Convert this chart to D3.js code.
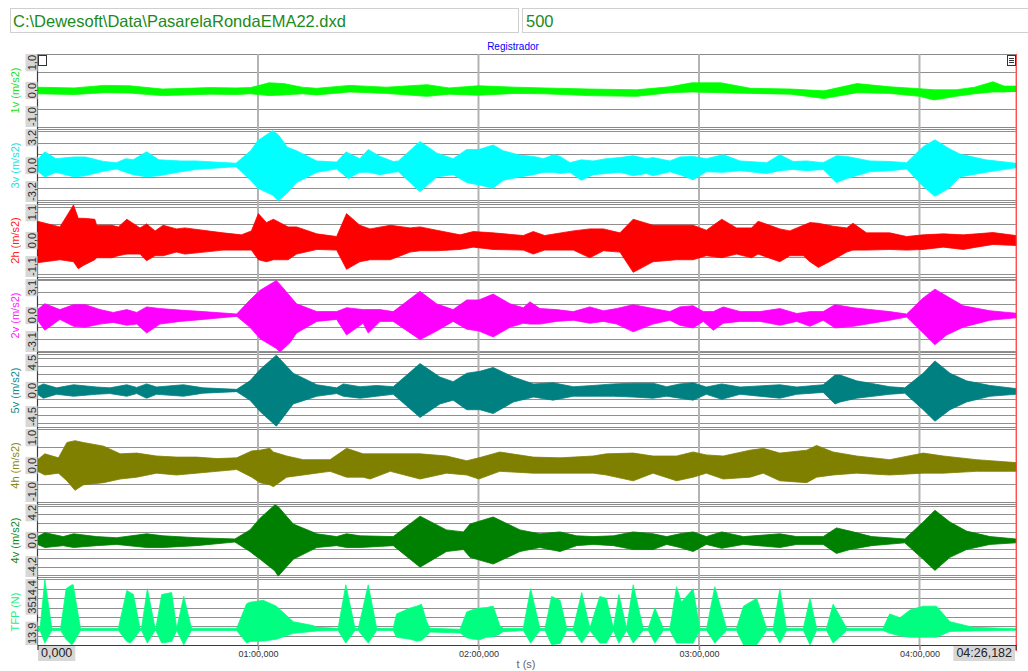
<!DOCTYPE html>
<html>
<head>
<meta charset="utf-8">
<script src="https://cdn.jsdelivr.net/npm/d3@7"></script>
<style>
  html, body { margin: 0; padding: 0; background: #ffffff; }
  svg { display: block; }
  text { font-family: "Liberation Sans", Arial, sans-serif; }
</style>
</head>
<body>
<svg id="chart" width="1028" height="671"></svg>
<script>
// ---- recorder data --------------------------------------------------------
const fileName = "C:\\Dewesoft\\Data\\PasarelaRondaEMA22.dxd";
const sampleRate = "500";
const title = "Registrador";
const tEnd = 266.182;

const channelNames = ["1v (m/s2)", "3v (m/s2)", "2h (m/s2)", "2v (m/s2)", "5v (m/s2)", "4h (m/s2)", "4v (m/s2)", "TFP (N)"];
const channelColors = ["#00ff00", "#00ffff", "#ff0000", "#ff00ff", "#008080", "#808000", "#008000", "#00ff80"];
const nameColors = ["#22dd22", "#22e0e0", "#ff2020", "#ff20ff", "#108888", "#888810", "#108810", "#22ee88"];
const rangeLow = [-1.0, -3.2, -1.1, -3.1, -4.5, -1.0, -4.2, 13.9];
const rangeHigh = [1.0, 3.2, 1.1, 3.1, 4.5, 1.0, 4.2, 3514.4];
const gridStep = [0.5, 1, 0.5, 1, 1, 0.5, 1, 500];
const topLabels = ["1,0", "3,2", "1,1", "3,1", "4,5", "1,0", "4,2", "3514,4"];
const midLabels = ["0,0", "0,0", "0,0", "0,0", "0,0", "0,0", "0,0", ""];
const bottomLabels = ["-1,0", "-3,2", "-1,1", "-3,1", "-4,5", "-1,0", "-4,2", "13,9"];

const timeTicks = [60, 120, 180, 240];
const timeTickLabels = ["01:00,000", "02:00,000", "03:00,000", "04:00,000"];
const startLabel = "0,000";
const endLabel = "04:26,182";
const axisTitle = "t (s)";

// envelope of each channel: [time s, max, min]
const env1v = [
  [0, 0.09, -0.09], [10, 0.07, -0.11], [18, 0.14, -0.06], [25, 0.13, -0.07], [34, 0.04, -0.14],
  [47, 0.08, -0.1], [54, 0.07, -0.11], [58, 0.08, -0.09], [63, 0.21, -0.14], [67, 0.19, -0.12],
  [72, 0.09, -0.09], [76, 0.06, -0.12], [85, 0.14, -0.04], [95, 0.09, -0.08], [106, 0.16, -0.16],
  [112, 0.07, -0.1], [120, 0.13, -0.13], [130, 0.09, -0.08], [138, 0.07, -0.09], [150, 0.04, -0.14],
  [163, 0.02, -0.16], [172, 0.1, -0.06], [178, 0.21, -0.04], [186, 0.21, -0.06], [194, 0.06, -0.08],
  [205, 0.04, -0.1], [214, -0.01, -0.22], [223, 0.19, -0.06], [232, 0.1, -0.08], [240, 0.05, -0.16],
  [244, 0.02, -0.26], [250, 0.02, -0.16], [255, 0.09, -0.09], [260, 0.24, -0.04], [263, 0.12, -0.04],
  [266.182, 0.12, -0.02]
];
const env3v = [
  [0, 0.5, -0.5], [2, 1.2, -1.0], [5, 0.6, -0.6], [10, 0.75, -1.0], [13, 0.75, -0.9],
  [18, 0.35, -0.5], [21.5, 0.25, -0.3], [24, 0.6, -0.6], [26, 0.5, -0.8], [29.7, 1.2, -1.0],
  [33, 0.5, -0.9], [39, 0.4, -0.55], [43, 0.4, -0.35], [54, 0.2, -0.1], [58, 1.3, -1.3],
  [60, 2.2, -2.0], [64, 3.05, -2.6], [65.5, 2.7, -3.1], [68, 1.6, -2.4], [70.5, 1.3, -1.5],
  [76, 0.4, -0.6], [81.4, 0.3, -0.3], [84, 1.2, -1.0], [84.5, 1.1, -1.15], [87.7, 0.6, -0.6],
  [90, 1.4, -0.6], [93.2, 0.8, -0.8], [96.8, 0.35, -0.6], [98.2, 0.4, -0.55], [104.1, 2.1, -2.3],
  [108.6, 1.1, -1.0], [113.1, 0.6, -0.8], [116.8, 1.4, -1.5], [120.1, 1.4, -1.7], [124, 1.8, -2.0],
  [126.7, 1.3, -1.3], [131.3, 0.9, -1.0], [135, 0.8, -0.8], [137.6, 0.6, -0.6], [140.5, 0.95, -0.6],
  [142.2, 0.8, -0.7], [144.9, 0.25, -0.6], [148, 0.5, -1.3], [151.2, 0.4, -0.8], [154.8, 0.6, -0.7],
  [158.5, 0.7, -0.6], [162.1, 0.85, -0.9], [165.7, 0.6, -0.7], [167.5, 0.7, -0.9], [172.1, 0.4, -0.55],
  [174.8, 0.75, -0.8], [178.4, 0.8, -1.25], [182, 0.6, -0.55], [186.6, 0.95, -0.6], [191.2, 0.4, -0.45],
  [198.4, 0.25, -0.7], [202, 0.95, -0.45], [205.6, 0.35, -0.35], [209.3, 0.4, -0.45], [213.8, 0.25, -0.35],
  [217.4, 0.85, -1.5], [220.2, 0.8, -1.15], [226.5, 0.4, -0.55], [232, 0.35, -0.45], [236.5, 0.25, -0.3],
  [241, 1.65, -1.85], [244.2, 2.25, -2.7], [248, 1.5, -2.0], [251, 1.0, -1.0], [258, 0.5, -0.6],
  [266.182, 0.2, -0.2]
];
const env2h = [
  [0, 0.58, -0.67], [6.1, 0.41, -0.58], [9.8, 1.07, -0.64], [11.1, 0.67, -0.85], [12.5, 0.67, -0.75],
  [15.6, 0.64, -0.58], [16.1, 0.46, -0.52], [20.2, 0.46, -0.52], [22, 0.41, -0.46], [24.3, 0.64, -0.41],
  [27.9, 0.38, -0.41], [29.7, 0.5, -0.61], [32, 0.29, -0.46], [34.2, 0.46, -0.46], [37.8, 0.35, -0.35],
  [40.1, 0.38, -0.41], [50.5, 0.23, -0.29], [55.5, 0.17, -0.29], [58.2, 0.29, -0.29], [60.1, 0.81, -0.58],
  [62.3, 0.54, -0.64], [64.2, 0.64, -0.58], [68.2, 0.41, -0.58], [70.5, 0.41, -0.41], [76, 0.2, -0.27],
  [81.4, 0.12, -0.29], [84.1, 0.81, -0.87], [87.7, 0.46, -0.64], [90.5, 0.35, -0.58], [96, 0.46, -0.58],
  [101.4, 0.38, -0.35], [104.1, 0.41, -0.31], [108.6, 0.31, -0.31], [115, 0.17, -0.27], [118.6, 0.27, -0.2],
  [124, 0.23, -0.27], [132.2, 0.15, -0.29], [134.9, 0.27, -0.41], [138, 0.15, -0.29], [145.8, 0.29, -0.29],
  [150.3, 0.35, -0.52], [154, 0.35, -0.31], [158.5, 0.23, -0.35], [162.1, 0.64, -0.96], [167.5, 0.46, -0.64],
  [173.9, 0.46, -0.58], [178.4, 0.46, -0.58], [182, 0.31, -0.46], [186.2, 0.64, -0.52], [190.2, 0.38, -0.41],
  [194.3, 0.38, -0.52], [196.1, 0.58, -0.41], [202, 0.35, -0.64], [204.7, 0.29, -0.46], [208.4, 0.46, -0.46],
  [210.2, 0.54, -0.64], [212.5, 0.52, -0.81], [216.5, 0.43, -0.58], [220.2, 0.38, -0.35], [221.9, 0.52, -0.29],
  [225.6, 0.23, -0.29], [231.9, 0.23, -0.27], [236.5, 0.12, -0.29], [241, 0.17, -0.27], [246.5, 0.2, -0.2],
  [251.9, 0.17, -0.27], [255.5, 0.2, -0.2], [260, 0.24, -0.12], [266.182, 0.15, -0.15]
];
const env2v = [
  [0, 0.5, -0.4], [2, 1.0, -1.25], [6.1, 0.5, -0.33], [9.8, 0.92, -0.92], [13, 0.92, -0.99],
  [17, 0.5, -0.73], [20.6, 0.26, -0.59], [24.3, 0.5, -0.83], [27, 0.26, -0.73], [29.7, 0.73, -1.49],
  [33.3, 0.59, -0.73], [38.8, 0.46, -0.5], [45.1, 0.33, -0.33], [54.2, 0.13, -0.07], [57.8, 1.32, -0.99],
  [60.6, 2.15, -1.98], [65, 2.97, -2.8], [66, 2.64, -3.1], [68.7, 1.65, -2.31], [70.5, 0.99, -1.49],
  [76, 0.33, -0.5], [81.4, 0.33, -0.33], [84.1, 0.66, -1.65], [88.6, 0.5, -0.66], [90, 0.5, -1.49],
  [93.2, 0.5, -0.5], [96.8, 0.33, -0.5], [104.1, 2.05, -2.05], [108.6, 0.99, -1.32], [113.1, 0.5, -0.5],
  [116.8, 1.32, -1.16], [120.1, 1.32, -1.32], [124, 1.82, -1.82], [128.6, 0.99, -0.99], [132.2, 0.66, -0.66],
  [134, 1.16, -0.73], [136.7, 0.59, -0.73], [141.2, 0.5, -0.5], [145.8, 0.33, -0.4], [150.3, 0.73, -0.66],
  [154, 0.4, -0.5], [157.6, 0.59, -0.73], [162.1, 0.92, -1.39], [167.5, 0.59, -0.73], [172.1, 0.33, -0.4],
  [174.8, 0.73, -0.83], [178.4, 0.83, -1.06], [181.2, 0.33, -0.5], [183.9, 0.33, -1.25], [186.6, 0.73, -0.66],
  [191.2, 0.33, -0.5], [196.6, 0.33, -0.5], [202, 0.59, -0.83], [206.6, 0.17, -0.5], [210.2, 0.33, -0.92],
  [213.8, 0.33, -0.4], [217, 0.92, -1.06], [222, 0.66, -0.92], [231.9, 0.33, -0.4], [236.5, 0.13, -0.13],
  [241, 1.49, -1.49], [244.2, 2.24, -2.48], [247.4, 1.65, -1.65], [251.9, 0.83, -0.99], [259.2, 0.4, -0.4],
  [266.182, 0.2, -0.2]
];
const env5v = [
  [0, 0.47, -0.47], [1.6, 0.81, -0.95], [5.2, 0.33, -0.47], [9.8, 0.71, -0.71], [16.1, 0.43, -0.47],
  [19.7, 0.33, -0.38], [24.3, 0.71, -0.71], [27, 0.38, -0.38], [29.7, 0.81, -0.95], [32.4, 0.43, -0.47],
  [39.7, 0.71, -0.71], [45.1, 0.33, -0.33], [54.2, 0.14, -0.14], [57.8, 1.19, -1.19], [60.6, 2.61, -2.61],
  [65, 4.35, -4.4], [69.6, 2.13, -1.66], [76, 0.71, -0.71], [81.4, 0.33, -0.38], [83.2, 0.81, -0.71],
  [87.8, 0.47, -0.95], [92.3, 0.62, -0.71], [96.8, 0.47, -0.47], [104.1, 3.32, -3.32], [109.5, 1.66, -1.66],
  [113.1, 1.09, -1.19], [116.8, 2.13, -2.37], [120.4, 2.37, -2.37], [124, 2.84, -2.84], [129.5, 1.66, -1.42],
  [135, 0.81, -0.81], [140.3, 0.95, -1.19], [145.8, 0.47, -0.71], [151.2, 0.62, -0.71], [156.7, 0.81, -0.71],
  [162.1, 0.9, -0.81], [167.5, 0.9, -0.95], [171.2, 0.47, -0.71], [174.8, 0.81, -0.95], [178.4, 0.95, -1.19],
  [182, 0.43, -0.47], [186.2, 0.81, -1.09], [191.2, 0.43, -0.47], [202, 0.71, -0.95], [206.6, 0.43, -0.47],
  [213.8, 0.71, -0.24], [217, 1.9, -1.66], [218.4, 1.9, -1.42], [222.9, 1.19, -0.95], [231.9, 0.47, -0.47],
  [236, 0.33, -0.33], [241, 2.13, -2.37], [244.2, 3.65, -3.79], [248.3, 2.13, -2.37], [252.8, 1.19, -1.42],
  [259.2, 0.62, -0.71], [266.182, 0.24, -0.47]
];
const env4h = [
  [0, 0.16, -0.16], [2, 0.32, -0.26], [5.7, 0.21, -0.21], [8, 0.63, -0.42], [10.2, 0.68, -0.68],
  [12.5, 0.63, -0.53], [18, 0.53, -0.47], [22.5, 0.32, -0.37], [27, 0.34, -0.32], [32.4, 0.26, -0.21],
  [37.8, 0.23, -0.26], [43.3, 0.23, -0.21], [48.8, 0.19, -0.16], [54.2, 0.21, -0.11], [58.3, 0.4, -0.32],
  [60.5, 0.42, -0.47], [63.2, 0.47, -0.53], [64.2, 0.37, -0.58], [67.8, 0.26, -0.32], [72.3, 0.16, -0.26],
  [79.6, 0.16, -0.16], [84.1, 0.47, -0.32], [88.6, 0.32, -0.32], [90.5, 0.32, -0.37], [96, 0.32, -0.16],
  [104.1, 0.32, -0.37], [111.3, 0.26, -0.21], [116.8, 0.13, -0.26], [120.1, 0.21, -0.37], [125.8, 0.37, -0.16],
  [134.9, 0.23, -0.21], [142.2, 0.21, -0.21], [151.2, 0.26, -0.21], [154.8, 0.32, -0.26], [162.1, 0.34, -0.42],
  [167.5, 0.26, -0.21], [173.9, 0.26, -0.42], [178.4, 0.37, -0.32], [182, 0.29, -0.21], [186.6, 0.26, -0.37],
  [193.9, 0.42, -0.32], [197.5, 0.47, -0.21], [202, 0.34, -0.42], [209.3, 0.42, -0.47], [212, 0.55, -0.32],
  [216.5, 0.37, -0.26], [222.9, 0.26, -0.21], [231.9, 0.16, -0.26], [241, 0.34, -0.21], [246.5, 0.26, -0.21],
  [255.5, 0.16, -0.16], [266.182, 0.08, -0.16]
];
const env4v = [
  [0, 0.45, -0.45], [2, 0.9, -0.81], [7, 0.45, -0.59], [9.8, 0.77, -0.81], [16.1, 0.45, -0.59],
  [21.5, 0.32, -0.45], [29.7, 0.77, -0.81], [34.2, 0.54, -0.81], [43.3, 0.32, -0.59], [53.7, 0.18, -0.18],
  [57.8, 1.22, -1.27], [60.6, 2.58, -2.17], [64.6, 4.1, -3.5], [65.5, 3.9, -4.1], [69.6, 1.9, -2.17],
  [76, 0.77, -0.81], [81.4, 0.45, -0.59], [84.1, 0.77, -0.81], [87.8, 0.54, -0.81], [96.8, 0.45, -0.59],
  [104.1, 2.8, -3.07], [111.3, 1.22, -1.27], [115.9, 0.99, -1.04], [117.7, 1.9, -1.94], [124, 2.71, -2.71],
  [131.3, 1.22, -1.27], [136.7, 0.77, -0.81], [142.2, 0.99, -1.27], [146.7, 0.54, -0.59], [151.2, 0.45, -0.45],
  [156.7, 0.54, -0.59], [162.1, 0.99, -1.04], [167.5, 0.77, -1.04], [171.2, 0.45, -0.45], [174.8, 0.77, -0.81],
  [178.4, 0.99, -1.27], [182, 0.45, -0.45], [186.2, 0.99, -0.9], [192.1, 0.45, -0.45], [202, 0.77, -0.81],
  [206.6, 0.45, -0.45], [213.8, 0.45, -0.45], [217.4, 1.45, -1.49], [221.1, 1.08, -1.04], [227, 0.45, -0.59],
  [236, 0.18, -0.27], [241, 2.12, -2.17], [244.2, 3.48, -3.44], [248.3, 2.12, -1.94], [252.8, 1.08, -1.04],
  [259.2, 0.45, -0.45], [266.182, 0.18, -0.27]
];
const envTFP = [
  [0, 1000, 700], [0.7, 900, 780], [2.0, 3480, 117], [3.9, 900, 780], [6.3, 900, 780],
  [7.8, 3001, 300], [9.3, 3200, 30], [9.7, 3207, 100], [11.7, 900, 780], [22, 900, 780],
  [24.3, 2898, 200], [25.2, 2800, 117], [26.1, 2692, 300], [27.9, 900, 780], [28.3, 900, 780],
  [29.9, 3001, 117], [32, 900, 780], [32.2, 900, 780], [33.8, 2692, 117], [36.5, 2795, 200],
  [37.9, 900, 780], [39.8, 2589, 30], [41.9, 900, 780], [54.2, 900, 780], [56.9, 2200, 117],
  [57.8, 2280, 200], [61.4, 2383, 220], [65, 2074, 323], [69.6, 1250, 632], [75, 1044, 735],
  [76, 950, 760], [81.8, 900, 780], [83.9, 3207, 117], [86.4, 900, 780], [87.3, 900, 780],
  [90, 3207, 117], [92.3, 900, 780], [96.8, 900, 780], [97.7, 1662, 426], [101.4, 1971, 323],
  [103.2, 2074, 220], [104.5, 2177, 250], [105.9, 1250, 500], [106.8, 900, 700], [115, 850, 650],
  [116.8, 1765, 400], [118.6, 1900, 323], [120.4, 1971, 300], [122.2, 2000, 426], [124, 2074, 450],
  [125.8, 1044, 600], [126.7, 900, 720], [132.2, 900, 780], [134.2, 3001, 117], [136.7, 900, 780],
  [138.1, 900, 780], [139.9, 2589, 30], [142.2, 2383, 100], [144, 900, 780], [145.8, 900, 780],
  [148.1, 2795, 117], [150.3, 900, 780], [153, 2589, 117], [154.8, 2486, 117], [156.7, 900, 780],
  [158.2, 2692, 117], [160.3, 900, 780], [162.1, 3207, 117], [164.8, 900, 780], [166.2, 900, 780],
  [168, 1971, 117], [170.3, 900, 780], [172.1, 900, 780], [173.9, 3104, 117], [175.2, 2280, 117],
  [178.4, 2998, 117], [180.2, 900, 780], [182.1, 900, 780], [184.3, 3104, 117], [187.5, 900, 780],
  [190.2, 900, 780], [192.1, 2074, 30], [195.7, 2486, 30], [198.4, 900, 780], [200.2, 900, 780],
  [202, 3001, 117], [203.8, 900, 780], [208.4, 900, 780], [210.2, 2486, 30], [212, 900, 780],
  [214.7, 900, 780], [216.5, 2177, 117], [220.2, 900, 780], [230.1, 900, 780], [231.9, 1662, 632],
  [234.7, 1456, 500], [237.4, 1868, 426], [241, 2074, 426], [244.6, 2074, 426], [248.3, 1250, 735],
  [254.6, 950, 760], [266.182, 880, 790]
];
const envelopes = [env1v, env3v, env2h, env2v, env5v, env4h, env4v, envTFP];

// ---- layout ---------------------------------------------------------------
const svg = d3.select("#chart");
const plotL = 37.5, plotR = 1015.7, plotT = 54, axisY = 645;
const panelStep = 75, panelH = 73;

const x = d3.scaleLinear().domain([0, tEnd]).range([plotL, plotR]);

const panels = channelNames.map((name, i) => {
  const top = plotT + i * panelStep;
  const bottom = i === channelNames.length - 1 ? axisY : top + panelH;
  const y = d3.scaleLinear().domain([rangeLow[i], rangeHigh[i]]).range([bottom, top]);
  return { i, name, top, bottom, y };
});

// header boxes
svg.append("rect").attr("x", 10.5).attr("y", 8.5).attr("width", 508).attr("height", 24)
  .attr("fill", "#fff").attr("stroke", "#cfcfcf");
svg.append("rect").attr("x", 522.5).attr("y", 8.5).attr("width", 520).attr("height", 24)
  .attr("fill", "#fff").attr("stroke", "#cfcfcf");
svg.append("text").attr("x", 13).attr("y", 27).attr("font-size", 16.5).attr("fill", "#1b8a1b")
  .text(fileName);
svg.append("text").attr("x", 526).attr("y", 27).attr("font-size", 16.5).attr("fill", "#1b8a1b")
  .text(sampleRate);
svg.append("text").attr("x", 513).attr("y", 50).attr("font-size", 10).attr("fill", "#0000ff")
  .attr("text-anchor", "middle").text(title);

// plot frame
svg.append("line").attr("x1", plotL).attr("x2", plotR).attr("y1", plotT + 0.5).attr("y2", plotT + 0.5)
  .attr("stroke", "#8c8c8c");

const gridG = svg.append("g");
panels.forEach(p => {
  // panel borders
  [p.top, p.bottom].forEach(yy => {
    gridG.append("line").attr("x1", plotL).attr("x2", plotR)
      .attr("y1", Math.round(yy) + 0.5).attr("y2", Math.round(yy) + 0.5)
      .attr("stroke", "#8a8a8a").attr("stroke-width", 1);
  });
  // value grid
  const step = gridStep[p.i];
  const first = Math.ceil(rangeLow[p.i] / step) * step;
  for (let v = first; v < rangeHigh[p.i] - 1e-9; v += step) {
    if (v <= rangeLow[p.i] + 1e-9) continue;
    const yy = Math.round(p.y(v)) + 0.5;
    gridG.append("line").attr("x1", plotL).attr("x2", plotR).attr("y1", yy).attr("y2", yy)
      .attr("stroke", "#8f8f8f").attr("stroke-width", 1);
  }
});

// minute grid lines
timeTicks.forEach(t => {
  gridG.append("line").attr("x1", x(t)).attr("x2", x(t)).attr("y1", plotT).attr("y2", axisY)
    .attr("stroke", "#b3b3b3").attr("stroke-width", 2);
});

// envelopes
const traceG = svg.append("g");
panels.forEach(p => {
  const area = d3.area()
    .x(d => x(d[0]))
    .y0(d => p.y(d[2]))
    .y1(d => p.y(d[1]))
    .curve(d3.curveLinear);
  traceG.append("path").datum(envelopes[p.i])
    .attr("d", area)
    .attr("fill", channelColors[p.i])
    .attr("stroke", channelColors[p.i]).attr("stroke-width", 0.8);
});

// left axis line and right cursor
svg.append("line").attr("x1", plotL).attr("x2", plotL).attr("y1", plotT).attr("y2", axisY)
  .attr("stroke", "#3c3c3c").attr("stroke-width", 1.2);
svg.append("line").attr("x1", plotR + 0.5).attr("x2", plotR + 0.5).attr("y1", plotT).attr("y2", axisY + 6)
  .attr("stroke", "#ff0000").attr("stroke-width", 1);

// value labels and channel names
const labelG = svg.append("g");
function valueLabel(txt, yy, anchor) {
  if (!txt) return;
  const g = labelG.append("g").attr("transform", `translate(31.5,${yy}) rotate(-90)`);
  const t = g.append("text").attr("x", 0).attr("y", 4).attr("font-size", 11)
    .attr("fill", "#2a2a2a").attr("text-anchor", anchor).text(txt);
  const b = t.node().getBBox();
  g.insert("rect", "text").attr("x", b.x - 1).attr("y", -6).attr("width", b.width + 2).attr("height", 12)
    .attr("fill", "#d7d7d7");
}
panels.forEach(p => {
  valueLabel(topLabels[p.i], p.top + 1, "end");
  valueLabel(midLabels[p.i], (p.top + p.bottom) / 2, "middle");
  valueLabel(bottomLabels[p.i], p.bottom - 1, "start");
  labelG.append("text")
    .attr("transform", `translate(19,${(p.top + p.bottom) / 2}) rotate(-90)`)
    .attr("text-anchor", "middle").attr("font-size", 11).attr("fill", nameColors[p.i])
    .text(p.name);
});

// small corner icons
svg.append("rect").attr("x", 38.5).attr("y", 55.5).attr("width", 8).attr("height", 10)
  .attr("fill", "#fff").attr("stroke", "#333");
svg.append("rect").attr("x", 1007.5).attr("y", 55.5).attr("width", 8).attr("height", 10)
  .attr("fill", "#fff").attr("stroke", "#333");
svg.append("line").attr("x1", 1009).attr("x2", 1014).attr("y1", 58.5).attr("y2", 58.5).attr("stroke", "#333");
svg.append("line").attr("x1", 1009).attr("x2", 1014).attr("y1", 60.5).attr("y2", 60.5).attr("stroke", "#333");
svg.append("line").attr("x1", 1009).attr("x2", 1014).attr("y1", 62.5).attr("y2", 62.5).attr("stroke", "#333");

// time axis
const axis = d3.axisBottom(x).tickValues(timeTicks)
  .tickFormat((d, i) => timeTickLabels[i]).tickSize(5).tickPadding(1);
const axG = svg.append("g").attr("transform", `translate(0,${axisY})`).call(axis);
axG.select(".domain").attr("stroke", "#3c3c3c").attr("stroke-width", 1.2);
axG.selectAll(".tick line").attr("stroke", "#8a8a8a").attr("stroke-width", 1.5);
axG.selectAll(".tick text").attr("font-size", 9).attr("fill", "#333")
  .attr("font-family", "Liberation Sans, Arial, sans-serif");

function boxLabel(txt, xx, anchor) {
  const t = svg.append("text").attr("x", xx).attr("y", 657).attr("font-size", 12.5)
    .attr("fill", "#222").attr("text-anchor", anchor).text(txt);
  const b = t.node().getBBox();
  svg.insert("rect", "text").attr("x", b.x - 3).attr("y", 646).attr("width", b.width + 6).attr("height", 15)
    .attr("fill", "#d7d7d7");
}
boxLabel(startLabel, 41, "start");
boxLabel(endLabel, 1012, "end");

svg.append("text").attr("x", 526).attr("y", 668).attr("font-size", 11).attr("fill", "#666")
  .attr("text-anchor", "middle").text(axisTitle);
</script>
</body>
</html>
